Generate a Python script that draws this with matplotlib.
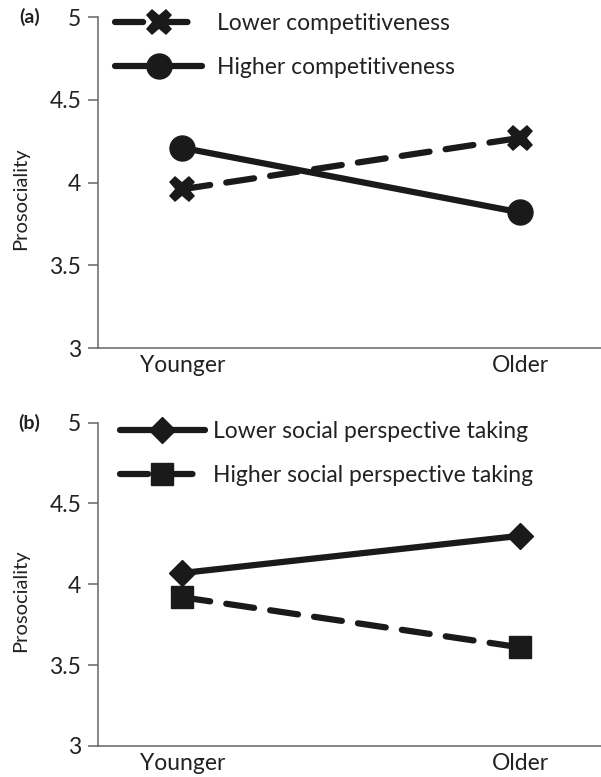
import matplotlib
matplotlib.use("Agg")
import matplotlib.pyplot as plt

plt.rcParams['font.family'] = ['Lato', 'DejaVu Sans']

groups = ["Younger", "Older"]

# panel (a): competitiveness
lower_comp = [3.96, 4.27]
higher_comp = [4.21, 3.82]

# panel (b): social perspective taking
lower_spt = [4.07, 4.30]
higher_spt = [3.92, 3.61]

yticks = [3, 3.5, 4, 4.5, 5]
yticklabels = ["3", "3.5", "4", "4.5", "5"]

LW = 4.5
DASH = (4.5, 2.6)
FS = 16.5
TXT = '#222222'


def style_axes(ax, tag):
    ax.set_xlim(-0.25, 1.24)
    ax.set_ylim(3, 5)
    ax.set_xticks(range(len(groups)))
    ax.set_xticklabels(groups, fontsize=FS, color=TXT)
    ax.set_yticks(yticks)
    ax.set_yticklabels(yticklabels, fontsize=FS, color=TXT)
    for side in ('top', 'right'):
        ax.spines[side].set_visible(False)
    for side in ('left', 'bottom'):
        ax.spines[side].set_color('#666666')
        ax.spines[side].set_linewidth(1.1)
    ax.tick_params(axis='x', length=0, pad=5)
    ax.tick_params(axis='y', length=7, width=1.1, color='#666666', pad=5)
    ax.set_ylabel("Prosociality", fontsize=14.5, color=TXT)
    ax.yaxis.set_label_coords(-0.137, 0.45)
    ax.text(-0.115, 1.0, tag, transform=ax.transAxes, fontsize=14,
            fontweight='bold', ha='right', va='center', color=TXT)


fig = plt.figure(figsize=(6.01, 7.77), dpi=100)
ax_a = fig.add_axes([0.163, 0.552, 0.837, 0.426])
ax_b = fig.add_axes([0.163, 0.040, 0.837, 0.416])

x = list(range(len(groups)))

ax_a.plot(x, lower_comp, color='#1a1a1a', lw=LW, ls=(0, DASH),
          dash_capstyle='round', marker='X', ms=19, mew=0,
          label="Lower competitiveness", clip_on=False)
ax_a.plot(x, higher_comp, color='#1a1a1a', lw=LW, solid_capstyle='round',
          marker='o', ms=18, label="Higher competitiveness", clip_on=False)
style_axes(ax_a, "(a)")
ax_a.legend(loc='upper left', bbox_to_anchor=(0.034, 1.012), frameon=False,
            borderpad=0, borderaxespad=0,
            fontsize=FS, handlelength=3.8, handletextpad=0.65,
            labelspacing=1.0, labelcolor=TXT)

ax_b.plot(x, lower_spt, color='#1a1a1a', lw=LW, solid_capstyle='round',
          marker='D', ms=13, label="Lower social perspective taking",
          clip_on=False)
ax_b.plot(x, higher_spt, color='#1a1a1a', lw=LW, ls=(0, DASH),
          dash_capstyle='round', marker='s', ms=16,
          label="Higher social perspective taking", clip_on=False)
style_axes(ax_b, "(b)")
ax_b.legend(loc='upper left', bbox_to_anchor=(0.044, 1.006), frameon=False,
            borderpad=0, borderaxespad=0,
            fontsize=FS, handlelength=3.7, handletextpad=0.35,
            labelspacing=1.0, labelcolor=TXT)

fig.savefig("out.png", dpi=100)
